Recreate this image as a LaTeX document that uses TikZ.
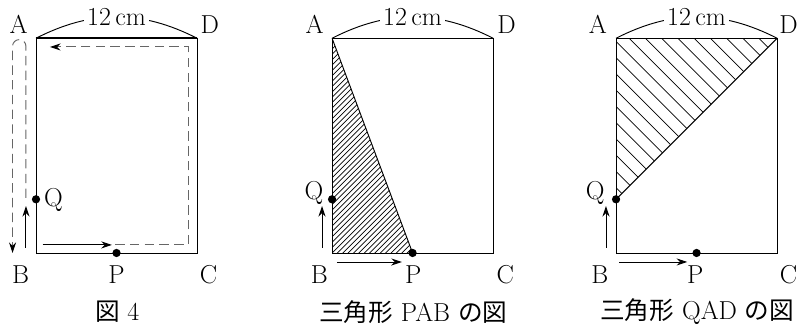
\documentclass[tikz,border=0pt]{standalone}
\usepackage{fontspec}
\newfontfamily\jp[Scale=0.95]{Noto Sans CJK JP}
\usetikzlibrary{arrows.meta}

\begin{document}
\begin{tikzpicture}[x=0.4cm,y=0.4cm,line width=0.8pt,font=\fontsize{22}{26}\selectfont,>={Stealth[length=9pt,width=6pt,inset=3pt]}]
\tikzstyle{dot}=[fill,shape=circle,minimum size=7pt,inner sep=0pt]
\tikzstyle{move}=[black!60,dash pattern=on 8pt off 4.5pt]
\tikzstyle{hatch}=[line width=0.6pt]
\tikzstyle{width}=[fill=white,inner sep=3pt]
\useasboundingbox (-2.683,-5.589) rectangle (57.15,18.85);

% Figure 4
\coordinate (A1) at (0,16);
\coordinate (B1) at (0,0);
\coordinate (C1) at (12,0);
\coordinate (D1) at (12,16);
\draw (A1) -- (B1) -- (C1) -- (D1);
\draw[line width=1.5pt] (A1) -- (D1);
\draw (A1) to[bend left=27] coordinate(w1) (D1);
\node[width] at (w1) (cm1) {12\,cm};
\node at (-1.3,17.05) (lA1) {A};
\node at (12.95,17.05) (lD1) {D};
\node at (-1.15,-1.65) (lB1) {B};
\node at (6,-1.65) (lP1) {P};
\node at (12.85,-1.65) (lC1) {C};
\node at (1.3,3.95) (lQ1) {Q};
\node at (6.05,-4.4) (cap1) {{\jp 図} 4};
% moves of P and Q
\coordinate (p1s) at (0.5,0.6);
\coordinate (p1e) at (5.65,0.6);
\coordinate (p1f) at (5.9,0.6);
\coordinate (p1g) at (11.33,0.6);
\coordinate (p1h) at (11.33,15.35);
\coordinate (p1i) at (1.04,15.35);
\draw[->] (p1s) -- (p1e);
\draw[move,-{Stealth[length=9pt,width=6pt,inset=3pt,black]}] (p1f) -- (p1g) -- (p1h) -- (p1i);
\coordinate (q1s) at (-0.75,0.4);
\coordinate (q1e) at (-0.75,3.5);
\coordinate (q1f) at (-0.75,4.1);
\coordinate (q1g) at (-0.75,15.4);
\coordinate (q1h) at (-1.75,0);
\draw[->] (q1s) -- (q1e);
\draw[move,-{Stealth[length=9pt,width=6pt,inset=3pt,black]}] (q1f) -- (q1g) arc (0:180:0.5) -- (q1h);
\node[dot] at (6,0) (P1) {};
\node[dot] at (0,4) (Q1) {};

% Triangle PAB
\begin{scope}[shift={(22.06,0)}]
\coordinate (A2) at (0,16);
\coordinate (B2) at (0,0);
\coordinate (C2) at (12,0);
\coordinate (D2) at (12,16);
\coordinate (P2) at (6,0);
\coordinate (Q2) at (0,4);
\begin{scope}
\clip (A2) -- (B2) -- (P2) -- cycle;
\foreach \k in {0,...,56}
  \draw[hatch] (-17+0.4*\k,-1) -- ++(18,18);
\end{scope}
\draw (A2) -- (B2) -- (C2) -- (D2) -- cycle;
\draw (A2) -- (P2);
\draw (A2) to[bend left=27] coordinate(w2) (D2);
\node[width] at (w2) (cm2) {12\,cm};
\node at (-1.3,17.05) (lA2) {A};
\node at (13.0,17.05) (lD2) {D};
\node at (-0.95,-1.65) (lB2) {B};
\node at (6.05,-1.65) (lP2) {P};
\node at (12.9,-1.65) (lC2) {C};
\node at (-1.35,4.5) (lQ2) {Q};
\node at (6.05,-4.4) (cap2) {{\jp 三角形} PAB {\jp の図}};
\coordinate (p2s) at (0.35,-0.67);
\coordinate (p2e) at (5.2,-0.67);
\coordinate (q2s) at (-0.75,0.4);
\coordinate (q2e) at (-0.75,3.5);
\draw[->] (p2s) -- (p2e);
\draw[->] (q2s) -- (q2e);
\node[dot] at (P2) (P2d) {};
\node[dot] at (Q2) (Q2d) {};
\end{scope}

% Triangle QAD
\begin{scope}[shift={(43.22,0)}]
\coordinate (A3) at (0,16);
\coordinate (B3) at (0,0);
\coordinate (C3) at (12,0);
\coordinate (D3) at (12,16);
\coordinate (P3) at (6,0);
\coordinate (Q3) at (0,4);
\begin{scope}
\clip (Q3) -- (A3) -- (D3) -- cycle;
\foreach \k in {-11,...,10}
  \draw[hatch] (0.97+1.21*\k-1,17) -- ++(14,-14);
\end{scope}
\draw (A3) -- (B3) -- (C3) -- (D3) -- cycle;
\draw (Q3) -- (D3);
\draw (A3) to[bend left=27] coordinate(w3) (D3);
\node[width] at (w3) (cm3) {12\,cm};
\node at (-1.35,17.05) (lA3) {A};
\node at (12.85,17.05) (lD3) {D};
\node at (-1.2,-1.65) (lB3) {B};
\node at (5.9,-1.65) (lP3) {P};
\node at (12.85,-1.65) (lC3) {C};
\node at (-1.55,4.5) (lQ3) {Q};
\node at (6.05,-4.4) (cap3) {{\jp 三角形} QAD {\jp の図}};
\coordinate (p3s) at (0.25,-0.67);
\coordinate (p3e) at (5.3,-0.67);
\coordinate (q3s) at (-0.75,0.4);
\coordinate (q3e) at (-0.75,3.5);
\draw[->] (p3s) -- (p3e);
\draw[->] (q3s) -- (q3e);
\node[dot] at (P3) (P3d) {};
\node[dot] at (Q3) (Q3d) {};
\end{scope}

\end{tikzpicture}
\end{document}
